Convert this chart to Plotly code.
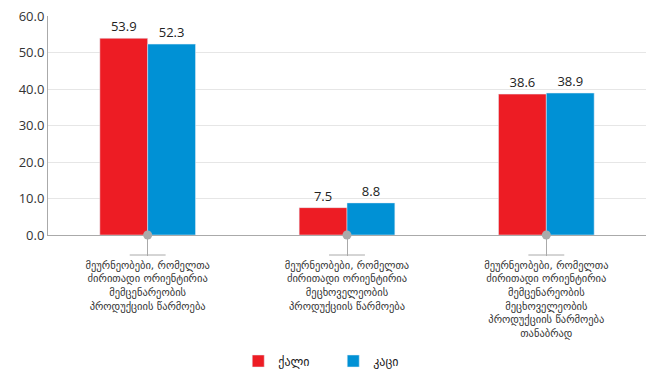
import plotly.graph_objects as go

categories = [
    "მეურნეობები, რომელთა<br>ძირითადი ორიენტირია<br>მემცენარეობის<br>პროდუქციის წარმოება",
    "მეურნეობები, რომელთა<br>ძირითადი ორიენტირია<br>მეცხოველეობის<br>პროდუქციის წარმოება",
    "მეურნეობები, რომელთა<br>ძირითადი ორიენტირია<br>მემცენარეობის<br>მეცხოველეობის<br>პროდუქციის წარმოება<br>თანაბრად",
]
women = [53.9, 7.5, 38.6]
men = [52.3, 8.8, 38.9]
series_names = ["ქალი", "კაცი"]
tick_vals = [0, 10, 20, 30, 40, 50, 60]

RED = "#ED1C24"
BLUE = "#0091D5"
FONT = "Open Sans, DejaVu Sans, sans-serif"

fig = go.Figure()
fig.add_trace(go.Bar(x=categories, y=women, name=series_names[0], marker_color=RED,
                     text=[f"{v:.1f}" for v in women], textposition="outside",
                     textfont=dict(size=13, color="#222"), cliponaxis=False))
fig.add_trace(go.Bar(x=categories, y=men, name=series_names[1], marker_color=BLUE,
                     text=[f"{v:.1f}" for v in men], textposition="outside",
                     textfont=dict(size=13, color="#222"), cliponaxis=False))
fig.add_trace(go.Scatter(x=categories, y=[0, 0, 0], mode="markers",
                         marker=dict(size=9, color="#aaaaaa"), showlegend=False,
                         cliponaxis=False, hoverinfo="skip"))

for i in range(len(categories)):
    fig.add_shape(type="line", xref="x", yref="paper", x0=i - 0.09, x1=i + 0.09,
                  y0=-20 / 219, y1=-20 / 219, line=dict(color="#aaaaaa", width=1))

fig.update_layout(
    width=646, height=369,
    margin=dict(l=48, r=0, t=16, b=134),
    paper_bgcolor="white", plot_bgcolor="white",
    barmode="group", bargap=0.52, bargroupgap=0,
    font=dict(family=FONT, color="#333"),
    legend=dict(orientation="h", x=0.477, xanchor="center",
                yref="container", y=8 / 369, yanchor="middle",
                font=dict(size=12, family="DejaVu Sans, sans-serif", color="#222"),
                entrywidth=50, traceorder="normal"),
    showlegend=True,
)
fig.update_xaxes(showline=True, linecolor="#aaaaaa", linewidth=1, automargin=False,
                 ticks="outside", ticklen=20, tickcolor="#aaaaaa", tickangle=0,
                 tickfont=dict(size=10.5, family="DejaVu Sans, sans-serif", color="#333"),
                 showgrid=False, fixedrange=True)
fig.update_yaxes(range=[0, 60], tickvals=tick_vals, tickformat=".1f", automargin=False,
                 showgrid=True, gridcolor="#e6e6e6", showline=True, linecolor="#aaaaaa",
                 tickfont=dict(size=13, color="#333"), zeroline=False, ticks="")

fig.write_html("out.html", post_script="document.body.style.margin='0';",
               config={"displayModeBar": False})
